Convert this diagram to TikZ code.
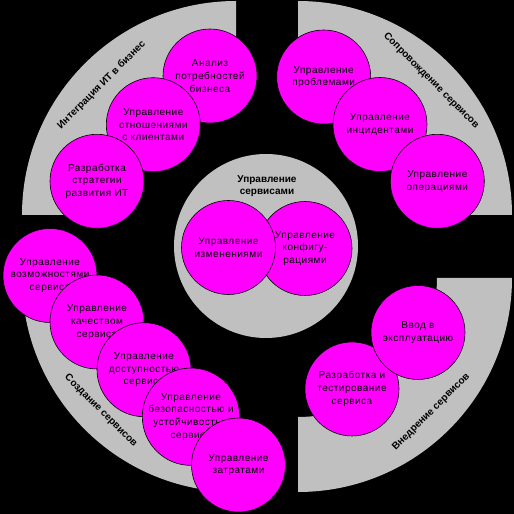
\documentclass[tikz,border=0pt]{standalone}
\usepackage{fontspec}
\setmainfont{Liberation Sans}
\newfontfamily\bubblefont[LetterSpace=5]{Liberation Sans}
\definecolor{bandgray}{RGB}{192,192,192}
\definecolor{bubblepink}{RGB}{255,0,255}
\begin{document}
\begin{tikzpicture}[x=1pt,y=1pt,
  band/.style={fill=bandgray},
  bubble/.style={circle, fill=bubblepink, draw=black, line width=0.6pt,
    minimum size=94pt, inner sep=0pt, align=center,
    font=\bubblefont\fontsize{10}{12.7}\selectfont, text=black},
  btext/.style={align=center, font=\bubblefont\fontsize{10}{12.7}\selectfont, text=black, inner sep=0pt},
  grouptitle/.style={font=\fontsize{10}{12}\selectfont\bfseries, text=black, inner sep=0pt, align=center}
]
\fill[black] (0,0) rectangle (514,514);
\useasboundingbox (0,0) rectangle (514,514);

% quarter bands
\fill[band] (22,299) arc[start angle=180, end angle=90, radius=214pt] -- (236,438)
  arc[start angle=90, end angle=180, radius=139pt] -- cycle;
\fill[band] (298,513) arc[start angle=90, end angle=0, radius=214pt] -- (437,299)
  arc[start angle=0, end angle=90, radius=139pt] -- cycle;
\fill[band] (512,236) arc[start angle=0, end angle=-90, radius=214pt] -- (298,97)
  arc[start angle=-90, end angle=0, radius=139pt] -- cycle;
\fill[band] (236,22) arc[start angle=270, end angle=180, radius=214pt] -- (97,236)
  arc[start angle=180, end angle=270, radius=139pt] -- cycle;

% centre disc
\fill[band] (266,268) circle[radius=92pt];

% top left
\node[bubble] (analiz) at (210,438) {Анализ\\потребностей\\бизнеса};
\node[bubble] (otnosh) at (153.3,389.3) {Управление\\отношениями\\с клиентами};
\node[bubble] (strat) at (97,332.7) {Разработка\\стратегии\\развития ИТ};

% top right
\node[bubble] (probl) at (323.7,437) {Управление\\проблемами};
\node[bubble] (incid) at (380,389.5) {Управление\\инцидентами};
\node[bubble] (oper) at (437.3,332.7) {Управление\\операциями};

% bottom right
\node[bubble] (razrab) at (352,125) {Разработка и\\тестирование\\сервиса};
\node[bubble] (vvod) at (418,181.5) {Ввод в\\эксплуатацию};

% bottom left
\node[bubble] (vozm) at (50,238.5) {Управление\\возможностями\\сервиса};
\node[bubble] (kach) at (97,192) {Управление\\качеством\\сервиса};
\node[bubble] (dost) at (144,144.3) {Управление\\доступностью\\сервиса};
\node[bubble] (bezop) at (191,97.3) {Управление\\безопасностью и\\устойчивостью\\сервиса};
\node[bubble] (zatr) at (238.5,49) {Управление\\затратами};

% centre
\node[bubble] (konf) at (305,265.5) {};
\node[bubble] (izm) at (228.5,266.5) {Управление\\изменениями};
\node[btext] (konftext) at (konf) {Управление\\конфигу-\\рациями};

% titles
\node[grouptitle] (tcentre) at (267,328) {Управление\\сервисами};
\node[grouptitle, rotate=45] (ttl) at (101.5,429) {Интеграция ИТ в бизнес};
\node[grouptitle, rotate=-45] (ttr) at (431.2,433.2) {Сопровождение сервисов};
\node[grouptitle, rotate=45] (tbr) at (431.2,102) {Внедрение сервисов};
\node[grouptitle, rotate=-45] (tbl) at (100.8,103.2) {Создание сервисов};
\end{tikzpicture}
\end{document}
